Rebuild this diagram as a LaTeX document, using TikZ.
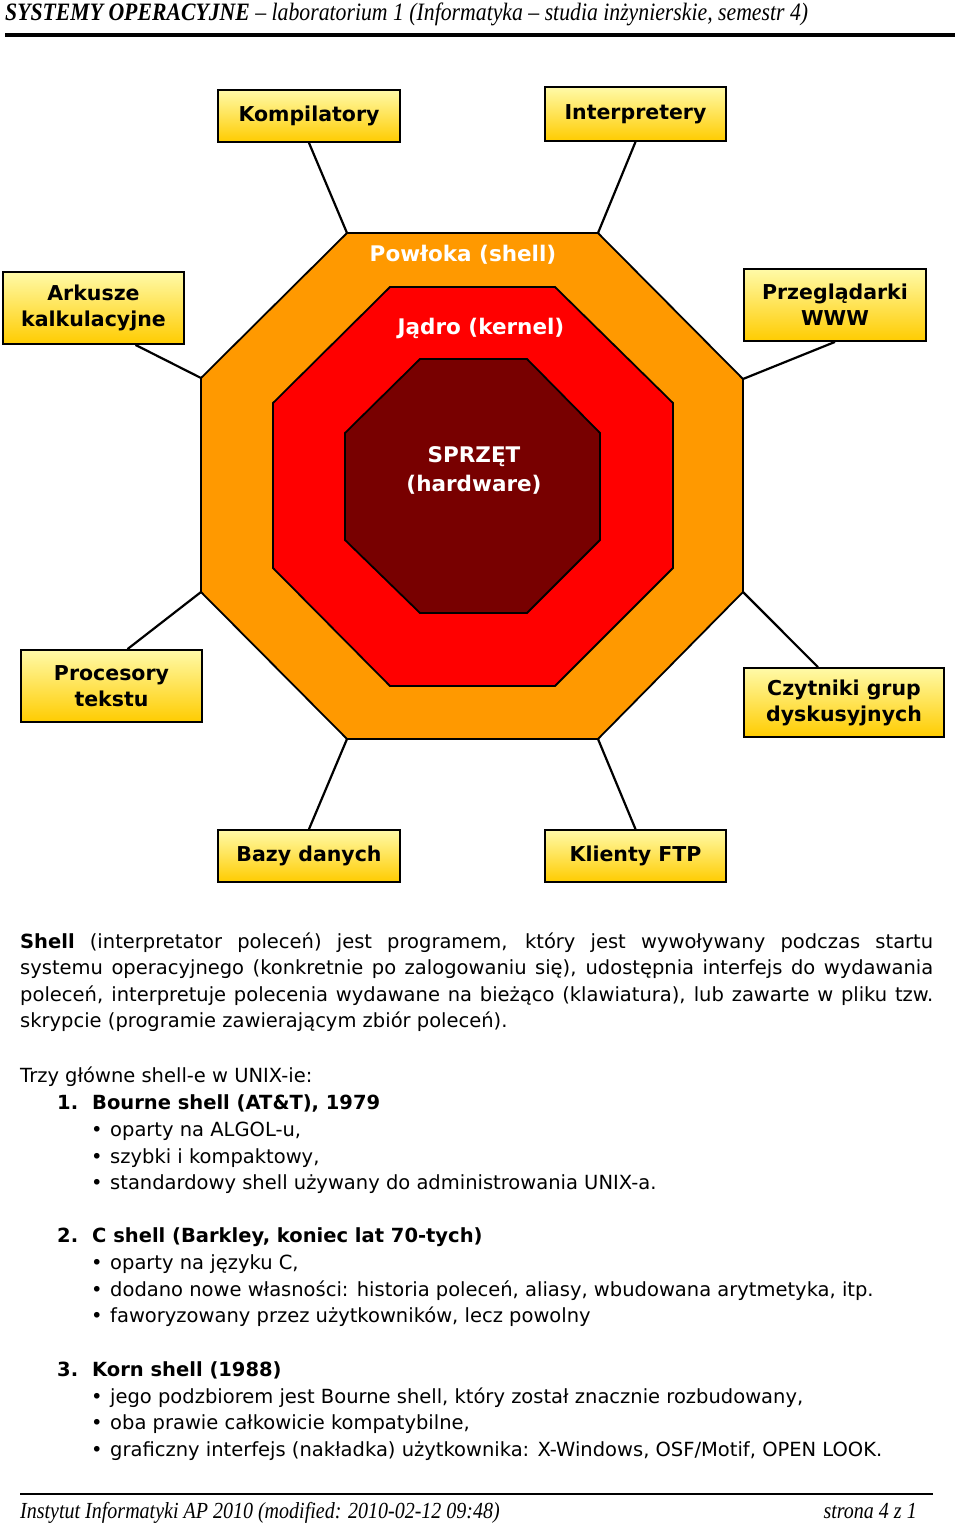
\documentclass[tikz,border=0pt]{standalone}
\usepackage{fontspec}
\setmainfont{DejaVu Sans}
\newfontfamily\headfont{Liberation Serif}[FakeStretch=0.87]
\usetikzlibrary{positioning}

\definecolor{shellorange}{HTML}{FF9900}
\definecolor{kernelred}{HTML}{FF0000}
\definecolor{hwred}{HTML}{780000}
\definecolor{boxlight}{HTML}{FFFAA8}
\definecolor{boxgold}{HTML}{FFCC00}

\begin{document}
\begin{tikzpicture}[x=1pt,y=-1pt]
	\tikzset{
		layer/.style={draw=black, line width=1.8pt, line join=miter},
		app/.style={draw=black, line width=1.8pt, top color=boxlight, bottom color=boxgold, align=center, inner sep=0pt, font=\fontsize{20.5}{26}\selectfont\bfseries},
		link/.style={line width=2.2pt},
		layerlabel/.style={text=white, align=center, font=\fontsize{21.5}{29}\selectfont\bfseries},
		txt/.style={anchor=base west, inner sep=0pt, font=\fontsize{19.5}{26}\selectfont},
		bold txt/.style={txt, font=\fontsize{19.5}{26}\selectfont\bfseries},
		head/.style={anchor=base west, inner sep=0pt, font=\headfont\itshape\fontsize{25}{28}\selectfont},
		foot/.style={anchor=base west, inner sep=0pt, font=\headfont\itshape\fontsize{23}{26}\selectfont}
	}
	\useasboundingbox (0,0) rectangle (960,1524);
	% page head
	\node[head] (title) at (5,20) {\textbf{SYSTEMY OPERACYJNE} – laboratorium 1 (Informatyka – studia inżynierskie, semestr 4)};
	\draw[line width=4pt] (5,35) -- (955,35);
	% layers
	\coordinate (o1) at (347,233); \coordinate (o2) at (598,233);
	\coordinate (o3) at (743,379); \coordinate (o4) at (743,592);
	\coordinate (o5) at (598,739); \coordinate (o6) at (347,739);
	\coordinate (o7) at (201,592); \coordinate (o8) at (201,378);
	\draw[layer, fill=shellorange] (o1) -- (o2) -- (o3) -- (o4) -- (o5) -- (o6) -- (o7) -- (o8) -- cycle;
	\draw[layer, fill=kernelred] (390,287) -- (555,287) -- (673,403) -- (673,568) -- (555,686) -- (390,686) -- (273,568) -- (273,403) -- cycle;
	\draw[layer, fill=hwred] (420,359) -- (527,359) -- (600,433) -- (600,540) -- (527,613) -- (420,613) -- (345,540) -- (345,433) -- cycle;
	\node[layerlabel] (shell) at (463,255) {Powłoka (shell)};
	\node[layerlabel] (kernel) at (481,328) {Jądro (kernel)};
	\node[layerlabel] (hw) at (474,470) {SPRZĘT\\(hardware)};
	% programs
	\node[app, minimum width=182pt, minimum height=52pt] (komp) at (309,116) {Kompilatory};
	\node[app, minimum width=181pt, minimum height=54pt] (interp) at (635.5,114) {Interpretery};
	\node[app, minimum width=181pt, minimum height=72pt] (ark) at (93.5,308) {Arkusze\\kalkulacyjne};
	\node[app, minimum width=182pt, minimum height=72pt] (przeg) at (835,305) {Przeglądarki\\WWW};
	\node[app, minimum width=181pt, minimum height=72pt] (proc) at (111.5,686) {Procesory\\tekstu};
	\node[app, minimum width=200pt, minimum height=69pt] (czyt) at (844,702.5) {Czytniki grup\\dyskusyjnych};
	\node[app, minimum width=182pt, minimum height=52pt] (bazy) at (309,856) {Bazy danych};
	\node[app, minimum width=181pt, minimum height=52pt] (ftp) at (635.5,856) {Klienty FTP};
	\foreach \from/\to in {komp.south/o1, interp.south/o2, przeg.south/o3, bazy.north/o6, ftp.north/o5}
		\draw[link] (\from) -- (\to);
	\draw[link] ([xshift=42pt]ark.south) -- (o8);
	\draw[link] ([xshift=16pt]proc.north) -- (o7);
	\draw[link] ([xshift=-26pt]czyt.north) -- (o4);
	% description
	\node[txt] (p1) at (20,948) {\makebox[913pt][s]{\textbf{Shell} (interpretator poleceń) jest programem, który jest wywoływany podczas startu}};
	\node[txt] (p2) at (20,974) {\makebox[913pt][s]{systemu operacyjnego (konkretnie po zalogowaniu się), udostępnia interfejs do wydawania}};
	\node[txt] (p3) at (20,1001) {\makebox[913pt][s]{poleceń, interpretuje polecenia wydawane na bieżąco (klawiatura), lub zawarte w pliku tzw.}};
	\node[txt] (p4) at (20,1027) {skrypcie (programie zawierającym zbiór poleceń).};
	\node[txt] (intro) at (20,1082) {Trzy główne shell-e w UNIX-ie:};
	\node[bold txt] (n1) at (57,1109) {1.};
	\node[bold txt] (s1) at (92,1109) {Bourne shell (AT\&T), 1979};
	\node[bold txt] (n2) at (57,1242) {2.};
	\node[bold txt] (s2) at (92,1242) {C shell (Barkley, koniec lat 70-tych)};
	\node[bold txt] (n3) at (57,1376) {3.};
	\node[bold txt] (s3) at (92,1376) {Korn shell (1988)};
	\foreach \y/\t [count=\i] in {1136/{oparty na ALGOL-u,}, 1163/{szybki i kompaktowy,}, 1189/{standardowy shell używany do administrowania UNIX-a.},
		1269/{oparty na języku C,}, 1296/{dodano nowe własności: historia poleceń, aliasy, wbudowana arytmetyka, itp.}, 1322/{faworyzowany przez użytkowników, lecz powolny},
		1403/{jego podzbiorem jest Bourne shell, który został znacznie rozbudowany,}, 1429/{oba prawie całkowicie kompatybilne,}, 1456/{graficzny interfejs (nakładka) użytkownika: X-Windows, OSF/Motif, OPEN LOOK.}} {
		\node[txt] (dot\i) at (91,\y) {•};
		\node[txt] (item\i) at (110,\y) {\t};
	}
	% page foot
	\draw[line width=2pt] (20,1494) -- (933,1494);
	\node[foot] (footl) at (20,1518) {Instytut Informatyki AP 2010 (modified: 2010-02-12 09:48)};
	\node[foot, anchor=base east] (footr) at (917,1518) {strona 4 z 1};
\end{tikzpicture}
\end{document}
